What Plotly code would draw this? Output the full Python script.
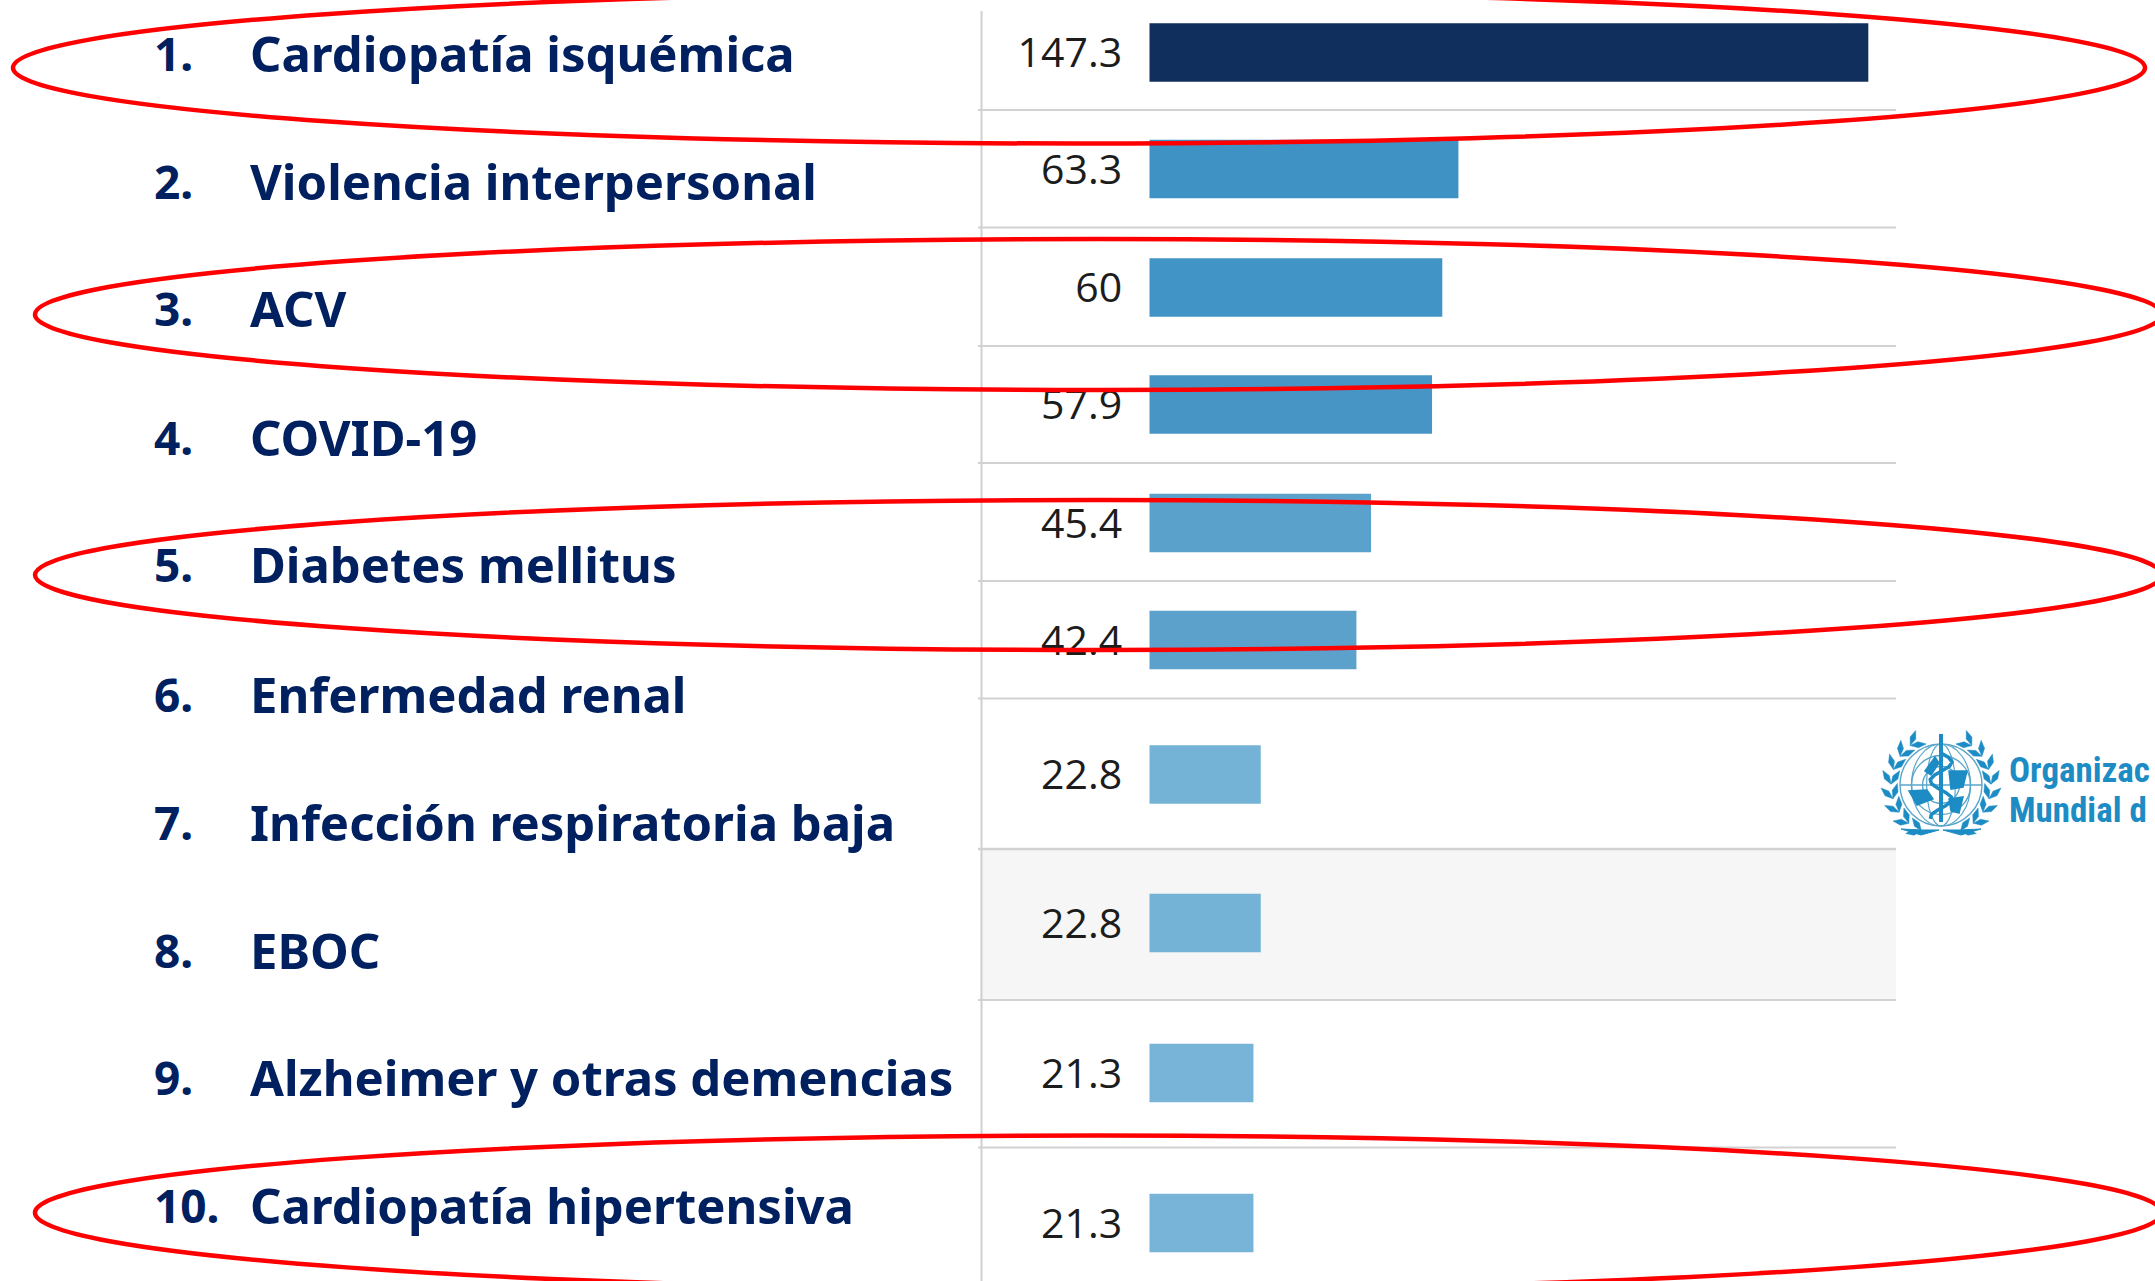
import math
import plotly.graph_objects as go

W, H = 2155, 1281

ranks = ["1.", "2.", "3.", "4.", "5.", "6.", "7.", "8.", "9.", "10."]
causes = ["Cardiopatía isquémica", "Violencia interpersonal", "ACV", "COVID-19",
          "Diabetes mellitus", "Enfermedad renal", "Infección respiratoria baja",
          "EBOC", "Alzheimer y otras demencias", "Cardiopatía hipertensiva"]
values = [147.3, 63.3, 60, 57.9, 45.4, 42.4, 22.8, 22.8, 21.3, 21.3]
value_labels = ["147.3", "63.3", "60", "57.9", "45.4", "42.4", "22.8", "22.8", "21.3", "21.3"]
bar_colors = ["#112f5d", "#3e92c4", "#4195c6", "#4695c4", "#5aa1cc",
              "#5ca1cc", "#74b3d6", "#74b3d6", "#77b4d7", "#77b4d7"]

# layout (pixels of the picture)
bar_rows = [52.5, 169, 287.5, 404.5, 523, 640, 774.5, 923, 1073, 1223]
label_rows = [53, 181, 308.5, 436.5, 564.5, 693.5, 821.5, 949.5, 1077, 1205]
grid_rows = [110, 227.5, 346, 463, 581, 698.5, 849, 1000, 1147.5]
X0, PX_PER_UNIT = 1149.5, 4.88
NAVY, BLUE, RED = "#002060", "#1d8cc4", "#ff0000"


def px(x):
    return x / W


def py(y):
    return 1 - y / H


shapes = []


def rect(x0, y0, x1, y1, fill, layer="below"):
    shapes.append(dict(type="rect", xref="paper", yref="paper", x0=px(x0), x1=px(x1),
                       y0=py(y0), y1=py(y1), fillcolor=fill, line_width=0, layer=layer))


def line(x0, y0, x1, y1, color="#d2d2d2", width=2, layer="below"):
    shapes.append(dict(type="line", xref="paper", yref="paper", x0=px(x0), x1=px(x1),
                       y0=py(y0), y1=py(y1), line=dict(color=color, width=width), layer=layer))


def ellipse(x0, y0, x1, y1, color=RED, width=4.5, fill=None, layer="above"):
    d = dict(type="circle", xref="paper", yref="paper", x0=px(x0), x1=px(x1),
             y0=py(y0), y1=py(y1), line=dict(color=color, width=width), layer=layer)
    if fill:
        d["fillcolor"] = fill
    shapes.append(d)


def path(points, color, fill=None, width=1.5, close=False):
    d = "M" + " L".join(f"{px(a):.5f},{py(b):.5f}" for a, b in points) + (" Z" if close else "")
    s = dict(type="path", xref="paper", yref="paper", path=d,
             line=dict(color=color, width=width), layer="above")
    if fill:
        s["fillcolor"] = fill
    shapes.append(s)


# table background and rules
rect(980, 849, 1896, 1000, "#f6f6f6")
for g in grid_rows:
    line(978, g, 1896, g, width=2.5 if g == 849 else 2)
line(981.5, 11, 981.5, H, color="#d0d0d0", width=2)

# red ellipses
ellipse(13, -8, 2145, 143.5)
ellipse(35, 239, 2162, 390)
ellipse(35, 500, 2162, 650)
ellipse(35, 1135.5, 2162, 1290)

# WHO emblem (decoration)
cx, cy, r = 1941, 785, 41
for k in (1.0, 0.72, 0.45):
    ellipse(cx - r * k, cy - r * k, cx + r * k, cy + r * k, color="#5aa6c9", width=1.4)
line(cx - r, cy, cx + r, cy, color="#5aa6c9", width=1.4, layer="above")
for k in (0.35, 0.72):
    ellipse(cx - r * k, cy - r, cx + r * k, cy + r, color="#5aa6c9", width=1.2)
line(cx, 734, cx, 822, color=BLUE, width=4, layer="above")
path([(cx + 11 * math.sin(t * 0.75), cy - 32 + t * 4.4) for t in range(0, 16)], BLUE, width=3.5)
path([(cx - 14, cy + 5), (cx - 32, cy + 6), (cx - 24, cy + 20), (cx - 8, cy + 14)], BLUE, fill=BLUE, close=True)
path([(cx + 8, cy - 14), (cx + 26, cy - 14), (cx + 22, cy + 2), (cx + 10, cy + 4)], BLUE, fill=BLUE, close=True)
path([(cx + 8, cy + 14), (cx + 22, cy + 12), (cx + 18, cy + 28), (cx + 10, cy + 26)], BLUE, fill=BLUE, close=True)
path([(cx - 16, cy - 14), (cx - 6, cy - 28), (cx - 2, cy - 22), (cx - 10, cy - 10)], BLUE, fill=BLUE, close=True)
for side in (-1, 1):
    for i in range(8):
        a = math.radians(-52 + i * 17)
        bx, by = cx + side * 50 * math.cos(a), cy + 50 * math.sin(a)
        tan = (side * math.sin(a), -math.cos(a))
        nor = (side * math.cos(a), math.sin(a))
        for sign in (1, -1):
            ang = math.radians(32) * sign
            dx = tan[0] * math.cos(ang) + nor[0] * math.sin(ang)
            dy = tan[1] * math.cos(ang) + nor[1] * math.sin(ang)
            wx, wy = -dy * 3, dx * 3
            path([(bx, by), (bx + dx * 8 + wx, by + dy * 8 + wy), (bx + dx * 16, by + dy * 16),
                  (bx + dx * 8 - wx, by + dy * 8 - wy)], BLUE, fill=BLUE, width=0.5, close=True)
    path([(cx + side * 2, 830), (cx + side * 20, 835), (cx + side * 40, 829), (cx + side * 20, 830)],
         BLUE, fill=BLUE, width=1, close=True)

# text
annotations = []


def text(x, y, s, size, color, family, bold=False):
    annotations.append(dict(xref="paper", yref="paper", x=px(x), y=py(y), text=f"<b>{s}</b>" if bold else s,
                            showarrow=False, xanchor="left", yanchor="middle",
                            font=dict(size=size, color=color, family=family), borderpad=0, borderwidth=0))


for rank, cause, y in zip(ranks, causes, label_rows):
    text(154, y, rank, 46, NAVY, "Noto Sans", True)
    text(250, y, cause, 49, NAVY, "Noto Sans", True)
text(2009, 770, "Organizac", 35, BLUE, "Roboto Condensed, Roboto", True)
text(2009, 810, "Mundial d", 35, BLUE, "Roboto Condensed, Roboto", True)

fig = go.Figure()
for cause, v, c, y in zip(causes, values, bar_colors, bar_rows):
    fig.add_trace(go.Bar(x=[v], y=[y], orientation="h", width=58.5, marker=dict(color=c, line_width=0),
                         base=0, name=cause, showlegend=False))
fig.add_trace(go.Scatter(x=[-5.6] * len(values), y=[y + 4.5 for y in bar_rows], mode="text",
                         text=value_labels, textposition="middle left",
                         textfont=dict(size=41, color="#1c1c1c", family="Open Sans"),
                         showlegend=False))

fig.update_layout(
    width=W, height=H, margin=dict(l=0, r=0, t=0, b=0), autosize=False,
    paper_bgcolor="white", plot_bgcolor="rgba(0,0,0,0)", barmode="overlay", showlegend=False,
    xaxis=dict(range=[-X0 / PX_PER_UNIT, (W - X0) / PX_PER_UNIT], visible=False, fixedrange=True),
    yaxis=dict(range=[H, 0], visible=False, fixedrange=True),
    shapes=shapes, annotations=annotations,
)
fig.write_html("out.html", config={"displayModeBar": False},
               post_script="document.body.style.margin='0';document.body.style.overflow='hidden';")
